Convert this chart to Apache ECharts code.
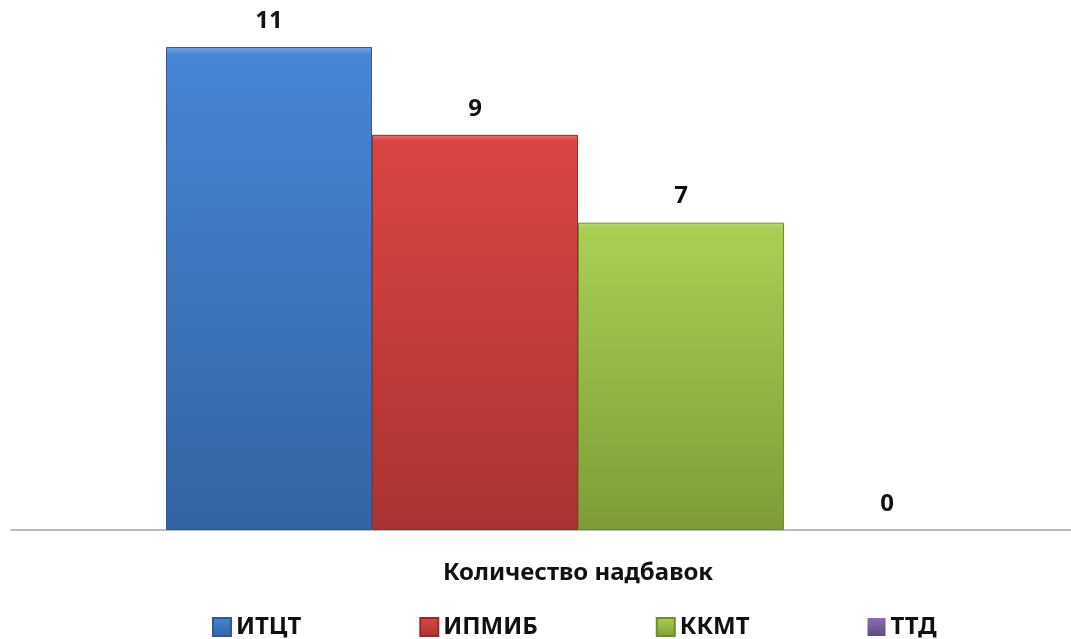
<!DOCTYPE html>
<html>
<head>
<meta charset="utf-8">
<script src="https://cdn.jsdelivr.net/npm/echarts@6/dist/echarts.min.js"></script>
<style>
  html, body { margin: 0; padding: 0; background: #fff; }
  #chart { width: 1071px; height: 639px; }
</style>
</head>
<body>
<div id="chart"></div>
<script>
const categories = ['Количество надбавок']
const seriesNames = ['ИТЦТ', 'ИПМИБ', 'ККМТ', 'ТТД']
const seriesValues = [[11], [9], [7], [0]]

// top / bottom gradient colours per series
const colors = [
  ['#4686d6', '#3463a2'],
  ['#da4543', '#a93433'],
  ['#a9d052', '#7d9c38'],
  ['#8d6bb5', '#62497f']
]
const edgeColors = ['#2f5a94', '#962d2c', '#6f8c30', '#553f70']

const font = '"Noto Sans", sans-serif'

const chart = echarts.init(document.getElementById('chart'))

const series = seriesNames.map((name, i) => ({
  name: name,
  type: 'bar',
  xAxisIndex: 1,
  yAxisIndex: 1,
  barWidth: 206,
  barGap: '0%',
  data: seriesValues[i],
  itemStyle: {
    color: new echarts.graphic.LinearGradient(0, 0, 0, 1, [
      { offset: 0, color: echarts.color.lift(colors[i][0], 0.25) },
      { offset: 0.015, color: colors[i][0] },
      { offset: 1, color: colors[i][1] }
    ]),
    borderColor: edgeColors[i],
    borderWidth: seriesValues[i][0] > 0 ? 1 : 0
  },
  label: {
    show: true,
    position: 'top',
    distance: 14,
    color: '#111',
    fontFamily: font,
    fontWeight: 'bold',
    fontSize: 24
  }
}))

chart.setOption({
  animation: false,
  legend: {
    data: seriesNames,
    left: 212,
    top: 615,
    padding: 0,
    itemWidth: 18,
    itemHeight: 18,
    itemGap: 118,
    icon: 'rect',
    textStyle: {
      fontFamily: font,
      fontWeight: 'bold',
      fontSize: 24,
      color: '#111'
    }
  },
  grid: [
    { left: 11, right: 0, top: 47, bottom: 109 },
    { left: 85, right: 0, top: 47, bottom: 109 }
  ],
  xAxis: [
    {
      type: 'category',
      gridIndex: 0,
      data: categories,
      axisLine: { lineStyle: { color: '#a6a6a6', width: 1.5 } },
      axisTick: { show: false },
      axisLabel: { show: false }
    },
    {
      type: 'category',
      gridIndex: 1,
      data: categories,
      axisLine: { show: false },
      axisTick: { show: false },
      axisLabel: {
        margin: 31,
        color: '#111',
        fontFamily: font,
        fontWeight: 'bold',
        fontSize: 24
      }
    }
  ],
  yAxis: [
    { type: 'value', gridIndex: 0, min: 0, max: 11, show: false },
    { type: 'value', gridIndex: 1, min: 0, max: 11, show: false }
  ],
  series: series
})
</script>
</body>
</html>
